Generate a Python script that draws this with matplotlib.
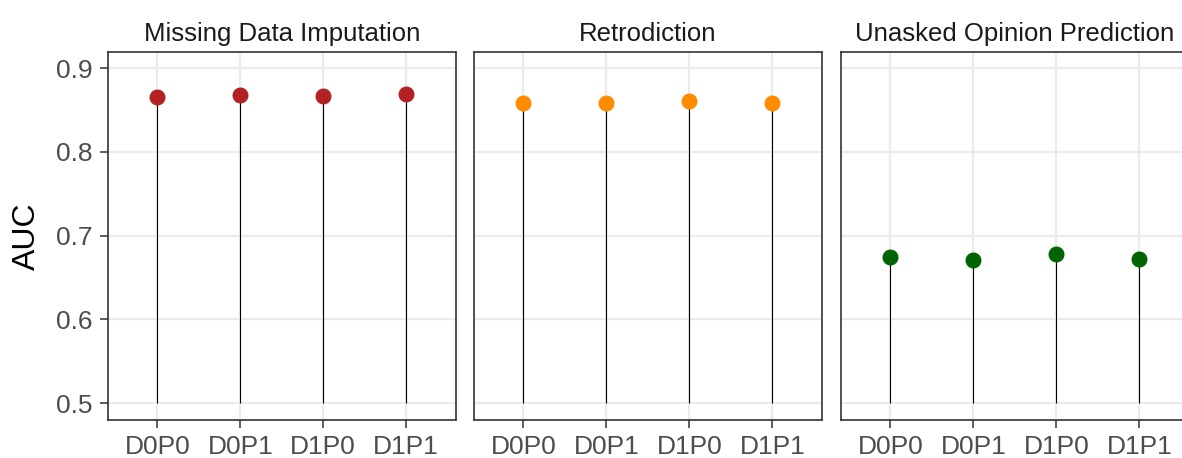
import matplotlib
matplotlib.use('Agg')
import matplotlib.pyplot as plt

plt.rcParams['font.family'] = ['Liberation Sans', 'DejaVu Sans']

tasks = ['Missing Data Imputation', 'Retrodiction', 'Unasked Opinion Prediction']
conditions = ['D0P0', 'D0P1', 'D1P0', 'D1P1']
auc_missing = [0.866, 0.868, 0.867, 0.869]
auc_retro = [0.858, 0.858, 0.861, 0.858]
auc_unasked = [0.675, 0.671, 0.678, 0.672]
colors = ['#B22222', '#FF8C00', '#006400']
yticks = [0.5, 0.6, 0.7, 0.8, 0.9]

W, H = 1182, 458
fig = plt.figure(figsize=(W / 100, H / 100), dpi=100)

# panel positions in pixels (third panel runs past the right edge, as in the original)
lefts = [107.5, 473.7, 840.7]
pw = 348.5
top, bottom = 52, 420

for k, (title, vals) in enumerate(zip(tasks, [auc_missing, auc_retro, auc_unasked])):
    ax = fig.add_axes([lefts[k] / W, (H - bottom) / H, pw / W, (bottom - top) / H])
    x = list(range(1, len(conditions) + 1))
    ax.vlines(x, 0.5, vals, color='black', lw=0.8, zorder=3)
    ax.plot(x, vals, 'o', color=colors[k], ms=10.5, zorder=4)
    ax.set_xlim(0.4, 4.6)
    ax.set_ylim(0.4797, 0.9195)
    ax.set_xticks(x)
    ax.set_xticklabels(conditions)
    ax.set_yticks(yticks)
    ax.grid(True, color='#EBEBEB', lw=1.6, zorder=0)
    ax.set_axisbelow(True)
    for s in ax.spines.values():
        s.set_color('#333333')
        s.set_linewidth(1.2)
    ax.tick_params(colors='#333333', labelcolor='#4D4D4D', labelsize=19,
                   length=5.5, width=1.1, pad=5)
    ax.set_title(title, fontsize=18.5, color='#1A1A1A', pad=8)
    if k == 0:
        ax.set_yticklabels([f'{v:.1f}' for v in yticks])
        ax.set_ylabel('AUC', fontsize=23, labelpad=10)
    else:
        ax.tick_params(axis='y', labelleft=False, length=0)

fig.savefig('out.png', dpi=100)
